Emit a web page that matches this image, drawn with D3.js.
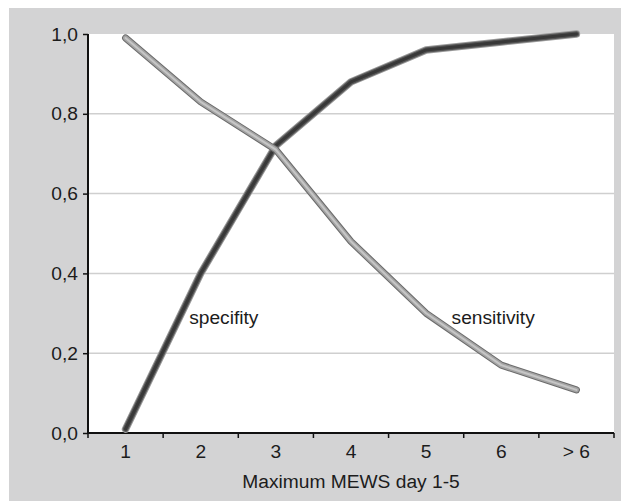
<!DOCTYPE html>
<html>
<head>
<meta charset="utf-8">
<script src="https://cdn.jsdelivr.net/npm/d3@7"></script>
<style>
  html, body { margin: 0; padding: 0; background: #fff; }
  svg { display: block; font-family: "Liberation Sans", Arial, sans-serif; }
</style>
</head>
<body>
<div id="chartDiv"></div>
<script>
const categories = ["1", "2", "3", "4", "5", "6", "> 6"];
const specifity = [0.01, 0.40, 0.72, 0.88, 0.96, 0.98, 1.0];
const sensitivity = [0.99, 0.83, 0.71, 0.48, 0.30, 0.17, 0.108];
const yTicks = [0, 0.2, 0.4, 0.6, 0.8, 1.0];
const xTitle = "Maximum MEWS day 1-5";

const w = 621;
const h = 501;
const plotLeft = 88, plotRight = 614, plotTop = 34, plotBottom = 433;
const fontSize = 19.2;
const textColor = "#1c1c1c";

const svg = d3.select("#chartDiv")
  .append("svg")
  .attr("width", w)
  .attr("height", h);

// grey frame
svg.append("rect")
  .attr("x", 9).attr("y", 8)
  .attr("width", w - 9).attr("height", h - 8)
  .attr("fill", "#d3d3d4");

svg.append("rect")
  .attr("x", plotLeft).attr("y", plotTop)
  .attr("width", plotRight - plotLeft).attr("height", plotBottom - plotTop)
  .attr("fill", "#fff");

const x = d3.scaleBand().domain(categories).range([plotLeft, plotRight]).padding(0);
const y = d3.scaleLinear().domain([0, 1]).range([plotBottom, plotTop]);

// gridlines
svg.append("g")
  .selectAll("line")
  .data(yTicks.filter(d => d > 0 && d < 1))
  .enter()
  .append("line")
  .attr("x1", plotLeft).attr("x2", plotRight)
  .attr("y1", d => y(d)).attr("y2", d => y(d))
  .attr("stroke", "#cfcfcf")
  .attr("stroke-width", 1.5);

// y axis
const yAxis = d3.axisLeft(y)
  .tickValues(yTicks)
  .tickSize(5)
  .tickPadding(5)
  .tickFormat(d => d3.format(".1f")(d).replace(".", ","));

const gy = svg.append("g")
  .attr("transform", `translate(${plotLeft}, 0)`)
  .call(yAxis);
gy.select(".domain").attr("stroke", "#111").attr("stroke-width", 2).attr("d", `M0,${plotTop}V${plotBottom}`);
gy.selectAll(".tick line").attr("stroke", "#111").attr("stroke-width", 1.5);
gy.selectAll(".tick text").attr("font-size", fontSize).attr("fill", textColor).attr("font-family", "Liberation Sans, Arial, sans-serif");

// x axis: labels centred in bands, ticks on band edges
const xAxis = d3.axisBottom(x).tickSize(0).tickPadding(11);
const gx = svg.append("g")
  .attr("transform", `translate(0, ${plotBottom})`)
  .call(xAxis);
gx.select(".domain").attr("stroke", "#111").attr("stroke-width", 2).attr("d", `M${plotLeft},0H${plotRight}`);
gx.selectAll(".tick text").attr("font-size", fontSize).attr("fill", textColor).attr("font-family", "Liberation Sans, Arial, sans-serif");

const edges = categories.map(c => x(c)).concat([plotRight]);
gx.selectAll(".edge")
  .data(edges)
  .enter()
  .append("line")
  .attr("class", "edge")
  .attr("x1", d => d).attr("x2", d => d)
  .attr("y1", 0).attr("y2", 5)
  .attr("stroke", "#111")
  .attr("stroke-width", 1.5);

svg.append("text")
  .attr("x", (plotLeft + plotRight) / 2)
  .attr("y", 488)
  .attr("text-anchor", "middle")
  .attr("font-size", fontSize)
  .attr("fill", textColor)
  .text(xTitle);

// lines, drawn as layered strokes for the tube look
const line = d3.line()
  .x((d, i) => x(categories[i]) + x.bandwidth() / 2)
  .y(d => y(d));

const drawTube = (values, layers) => {
  const g = svg.append("g");
  layers.forEach(l => {
    g.append("path")
      .attr("d", line(values))
      .attr("fill", "none")
      .attr("stroke", l[0])
      .attr("stroke-width", l[1])
      .attr("stroke-linecap", "round")
      .attr("stroke-linejoin", "round");
  });
};

drawTube(specifity, [["#9a9a9a", 7.5], ["#555", 5.5], ["#383838", 3]]);
drawTube(sensitivity, [["#6a6a6a", 7], ["#a3a3a3", 5], ["#c6c6c6", 2]]);

// series labels
svg.append("text")
  .attr("x", x("2") + 26)
  .attr("y", y(0.273))
  .attr("font-size", fontSize)
  .attr("fill", textColor)
  .text("specifity");

svg.append("text")
  .attr("x", x("5") + 63)
  .attr("y", y(0.273))
  .attr("font-size", fontSize)
  .attr("fill", textColor)
  .text("sensitivity");
</script>
</body>
</html>
